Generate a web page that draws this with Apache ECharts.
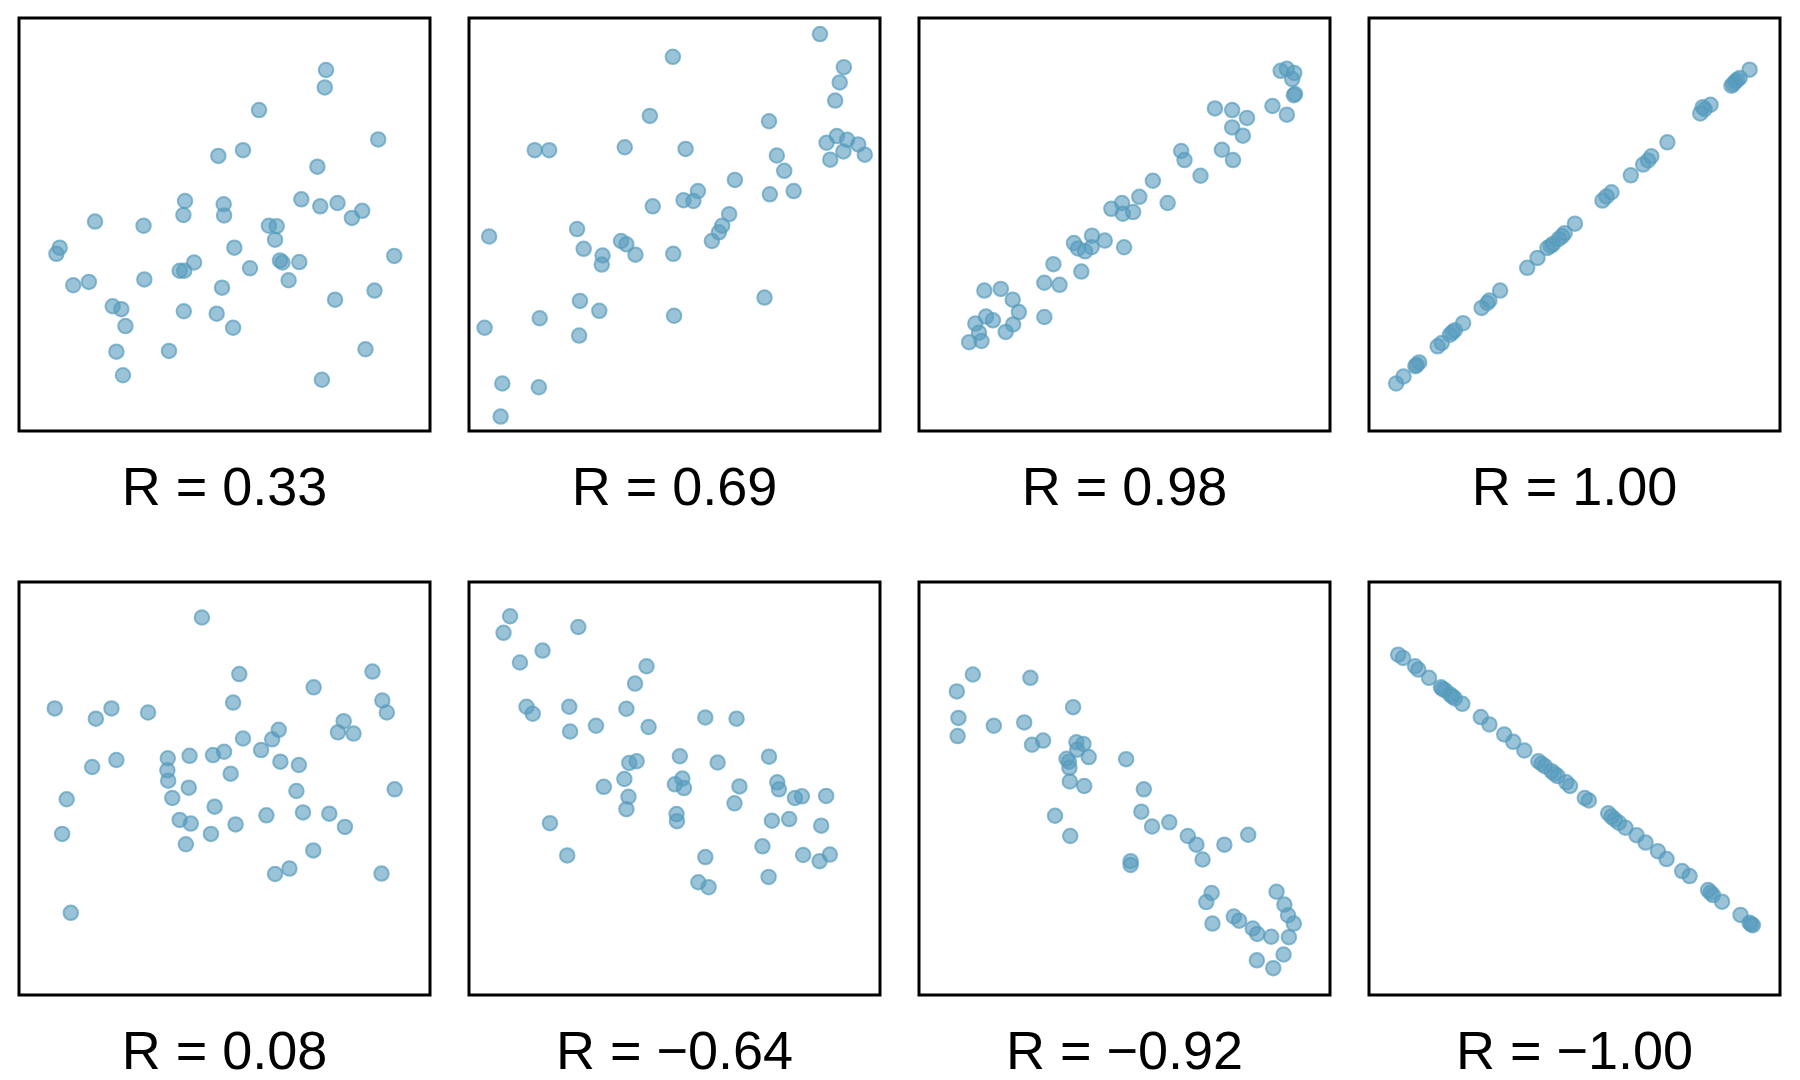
<!DOCTYPE html>
<html>
<head>
<meta charset="utf-8">
<title>Correlation examples</title>
<script src="https://cdn.jsdelivr.net/npm/echarts@6/dist/echarts.min.js"></script>
<style>
  html, body { margin: 0; padding: 0; background: #ffffff; }
  #chart { width: 1800px; height: 1080px; }
</style>
</head>
<body>
<div id="chart"></div>
<script>
// 各面板的标签
const panelLabels = ["R = 0.33", "R = 0.69", "R = 0.98", "R = 1.00", "R = 0.08", "R = \u22120.64", "R = \u22120.92", "R = \u22121.00"];

// 数据：每个面板 [x, y]，坐标范围 0–100
const r033 = [
  [74.7, 87.4], [74.4, 83.2], [58.4, 77.7], [87.4, 70.6], [48.5, 66.6], [54.5, 68.0], [72.6, 64.0], [68.7, 56.1],
  [73.3, 54.4], [77.5, 55.2], [83.5, 53.3], [81.0, 51.6], [40.4, 55.7], [40.0, 52.3], [49.8, 54.9], [49.9, 52.2],
  [18.5, 50.7], [30.3, 49.7], [60.8, 49.7], [62.7, 49.6], [62.3, 46.3], [9.9, 44.4], [9.1, 42.9], [52.4, 44.4],
  [91.3, 42.4], [63.5, 41.3], [64.1, 40.8], [68.2, 40.9], [42.6, 40.8], [39.1, 38.8], [40.2, 38.8], [56.2, 39.4],
  [13.2, 35.3], [17.0, 36.1], [30.5, 36.7], [49.4, 34.7], [65.6, 36.5], [86.5, 34.0], [76.9, 31.8], [22.8, 30.2],
  [24.9, 29.5], [40.1, 29.0], [48.1, 28.4], [25.9, 25.4], [52.1, 25.0], [23.7, 19.2], [36.5, 19.4], [84.3, 19.8],
  [25.3, 13.5], [73.7, 12.4]
];
const r069 = [
  [85.4, 96.1], [49.6, 90.6], [91.2, 88.1], [90.2, 84.4], [89.1, 80.0], [44.0, 76.3], [73.0, 75.0], [16.0, 68.0],
  [19.5, 68.0], [37.9, 68.7], [52.7, 68.3], [87.0, 69.8], [89.5, 71.4], [92.0, 70.5], [94.7, 69.4], [96.3, 66.9],
  [91.1, 67.7], [87.9, 65.7], [74.9, 66.7], [76.7, 63.0], [64.7, 60.8], [55.7, 58.1], [52.2, 55.9], [54.6, 55.7],
  [73.2, 57.3], [79.0, 58.1], [44.7, 54.4], [63.3, 52.5], [61.6, 49.7], [60.8, 48.1], [59.1, 46.0], [4.9, 47.1],
  [26.3, 48.9], [27.9, 44.1], [32.5, 42.5], [32.3, 40.3], [37.0, 46.0], [38.3, 45.2], [40.5, 42.7], [49.7, 42.9],
  [71.9, 32.3], [27.0, 31.5], [31.7, 29.1], [49.9, 27.9], [17.2, 27.3], [3.8, 25.0], [26.8, 23.1], [8.1, 11.5],
  [17.0, 10.6], [7.7, 3.5]
];
const r098 = [
  [88.0, 87.2], [89.5, 87.7], [91.3, 86.7], [90.8, 85.2], [91.5, 81.6], [91.2, 81.3], [72.0, 78.1], [76.2, 77.7],
  [79.8, 75.8], [76.2, 73.5], [78.8, 71.5], [86.0, 78.7], [89.5, 76.6], [73.7, 68.1], [76.4, 65.6], [63.8, 67.8],
  [64.6, 65.6], [68.5, 61.8], [56.9, 60.6], [53.6, 56.7], [60.5, 55.2], [46.8, 53.8], [49.4, 55.2], [49.6, 52.6],
  [52.1, 53.0], [42.1, 47.3], [45.2, 46.1], [49.9, 44.5], [37.7, 45.5], [38.7, 44.2], [40.4, 43.5], [42.0, 44.5],
  [32.7, 40.4], [39.5, 38.6], [30.5, 35.9], [34.2, 35.4], [15.9, 34.0], [19.9, 34.4], [22.8, 31.8], [24.3, 28.8],
  [30.5, 27.6], [16.3, 27.7], [18.0, 26.8], [13.7, 26.0], [22.9, 25.8], [14.6, 23.8], [21.1, 24.0], [15.2, 21.8],
  [12.2, 21.5]
];
const r100 = [
  [6.6, 11.5], [8.4, 13.2], [11.3, 15.7], [11.6, 16.0], [12.2, 16.6], [16.7, 20.5], [17.7, 21.3], [19.7, 23.3],
  [20.3, 23.9], [20.9, 24.4], [22.9, 26.1], [27.4, 29.8], [28.8, 31.0], [29.3, 31.6], [31.9, 34.0], [38.5, 39.5],
  [41.0, 41.9], [43.4, 44.3], [44.2, 44.8], [44.8, 45.3], [46.2, 46.5], [47.0, 47.2], [47.6, 47.9], [50.1, 50.2],
  [56.8, 55.8], [57.8, 56.8], [59.0, 57.8], [63.7, 61.9], [66.7, 64.5], [67.9, 65.5], [68.7, 66.5], [72.6, 69.9],
  [80.6, 76.9], [81.2, 78.4], [81.7, 77.9], [83.1, 79.0], [88.2, 83.6], [88.6, 84.0], [89.1, 84.6], [89.6, 85.0],
  [90.2, 85.5], [92.6, 87.5]
];
const r008 = [
  [44.5, 91.4], [53.6, 77.7], [86.0, 78.3], [71.7, 74.5], [8.7, 69.4], [18.7, 66.9], [22.5, 69.4], [31.4, 68.4],
  [52.1, 70.8], [88.4, 71.3], [89.5, 68.4], [79.0, 66.3], [77.6, 63.6], [81.4, 63.3], [63.2, 64.2], [61.6, 61.9],
  [54.5, 62.1], [58.9, 59.3], [49.9, 58.9], [47.2, 58.1], [41.5, 57.9], [36.2, 57.3], [36.1, 54.4], [36.3, 51.9],
  [63.6, 56.5], [68.1, 55.7], [51.5, 53.6], [17.8, 55.2], [23.7, 56.9], [11.6, 47.4], [41.3, 50.2], [37.3, 47.7],
  [67.5, 49.4], [91.4, 49.8], [47.6, 45.6], [60.2, 43.5], [69.1, 44.2], [75.5, 43.9], [79.3, 40.7], [39.1, 42.4],
  [41.8, 41.5], [52.7, 41.3], [46.7, 39.0], [10.5, 39.0], [40.6, 36.5], [71.6, 35.0], [62.3, 29.3], [65.8, 30.6],
  [88.2, 29.4], [12.6, 19.9]
];
const rNeg064 = [
  [10.0, 91.7], [8.4, 87.7], [26.6, 89.1], [17.9, 83.4], [12.4, 80.5], [43.2, 79.6], [40.4, 75.4], [14.0, 69.8],
  [15.5, 68.1], [24.4, 69.8], [38.3, 69.3], [24.6, 63.8], [30.9, 65.2], [43.7, 64.9], [57.5, 67.2], [65.1, 66.9],
  [39.0, 56.2], [40.8, 56.6], [51.3, 57.8], [60.5, 56.3], [73.0, 57.7], [37.8, 52.3], [32.8, 50.4], [38.8, 48.0],
  [51.9, 52.4], [50.1, 51.0], [52.3, 50.1], [65.8, 50.5], [75.0, 51.5], [75.4, 49.8], [79.3, 47.7], [81.0, 48.1],
  [86.9, 48.2], [64.6, 46.4], [38.3, 45.0], [50.5, 43.8], [50.6, 42.1], [19.7, 41.6], [73.7, 42.2], [77.9, 42.6],
  [85.7, 41.0], [23.9, 33.8], [57.5, 33.4], [71.4, 36.0], [81.3, 33.9], [85.3, 32.4], [87.8, 34.0], [72.9, 28.6],
  [55.8, 27.3], [58.3, 26.1]
];
const rNeg092 = [
  [13.1, 77.6], [27.1, 76.8], [9.2, 73.5], [9.6, 67.1], [9.4, 62.7], [18.2, 65.2], [25.6, 66.0], [37.5, 69.7],
  [27.5, 60.6], [30.2, 61.6], [38.3, 61.2], [40.0, 60.8], [38.5, 59.4], [41.3, 57.6], [35.9, 57.2], [36.5, 56.5],
  [36.6, 55.0], [36.7, 51.7], [40.2, 50.6], [50.4, 57.1], [54.7, 49.8], [54.1, 44.4], [56.7, 40.8], [60.9, 41.8],
  [33.1, 43.4], [36.8, 38.5], [65.4, 38.5], [67.5, 36.4], [69.0, 32.8], [74.3, 36.4], [80.1, 38.8], [51.5, 32.4],
  [51.5, 31.5], [71.2, 24.7], [69.9, 22.5], [71.4, 17.3], [76.6, 19.0], [77.9, 18.0], [81.2, 16.1], [82.3, 14.8],
  [85.7, 14.1], [87.0, 25.0], [88.9, 21.9], [89.8, 19.3], [91.2, 17.3], [90.0, 14.0], [88.7, 9.8], [86.2, 6.5],
  [82.2, 8.4]
];
const rNeg100 = [
  [7.1, 82.4], [8.3, 81.6], [11.2, 79.6], [12.0, 78.8], [14.6, 76.8], [17.5, 74.5], [17.9, 74.1], [18.5, 73.8],
  [19.7, 72.8], [20.3, 72.3], [20.9, 71.8], [22.7, 70.5], [27.2, 67.3], [29.3, 65.5], [32.9, 63.1], [35.1, 61.3],
  [37.8, 59.2], [41.2, 56.6], [42.0, 56.0], [42.8, 55.4], [44.4, 54.2], [45.1, 53.6], [45.9, 53.0], [48.0, 51.5],
  [48.9, 50.6], [52.5, 47.7], [53.5, 47.1], [58.2, 44.0], [59.0, 43.2], [59.8, 42.5], [60.8, 41.7], [62.4, 40.5],
  [65.1, 38.7], [67.3, 36.9], [70.3, 34.8], [72.4, 32.9], [76.2, 30.0], [78.0, 28.8], [82.5, 25.4], [83.1, 24.8],
  [83.7, 24.2], [85.9, 22.6], [90.4, 19.4], [92.6, 17.5], [93.0, 17.1], [93.4, 16.9]
];

const panelData = [r033, r069, r098, r100, r008, rNeg064, rNeg092, rNeg100];

const PANEL_LEFTS = [19, 469, 919, 1369];
const PANEL_TOPS = [18, 582];
const PANEL_W = 411;
const PANEL_H = 413;
const POINT_COLOR = "rgba(86, 155, 189, 0.75)";
const POINT_BORDER = "rgba(86, 155, 189, 0.85)";

const chart = echarts.init(document.getElementById("chart"), null, { renderer: "canvas" });

const grids = [];
const xAxes = [];
const yAxes = [];
const series = [];
const titles = [];

panelData.forEach((data, i) => {
  const col = i % 4;
  const row = Math.floor(i / 4);
  const left = PANEL_LEFTS[col];
  const top = PANEL_TOPS[row];

  grids.push({
    left: left,
    top: top,
    width: PANEL_W,
    height: PANEL_H,
    show: true,
    borderColor: "#000000",
    borderWidth: 3,
    backgroundColor: "transparent",
  });

  const hiddenAxis = {
    gridIndex: i,
    type: "value",
    min: 0,
    max: 100,
    axisLine: { show: false },
    axisTick: { show: false },
    axisLabel: { show: false },
    splitLine: { show: false },
  };
  xAxes.push(Object.assign({}, hiddenAxis));
  yAxes.push(Object.assign({}, hiddenAxis));

  series.push({
    type: "scatter",
    xAxisIndex: i,
    yAxisIndex: i,
    symbol: "circle",
    symbolSize: 14.5,
    itemStyle: {
      color: POINT_COLOR,
      borderColor: POINT_BORDER,
      borderWidth: 2,
    },
    emphasis: { disabled: true },
    data: data,
  });

  titles.push({
    text: panelLabels[i],
    left: left + PANEL_W / 2,
    top: top + 445,
    textAlign: "center",
    padding: 0,
    textStyle: {
      fontFamily: "Liberation Sans",
      fontSize: 54,
      fontWeight: "normal",
      color: "#000000",
    },
  });
});

chart.setOption({
  backgroundColor: "#ffffff",
  animation: false,
  title: titles,
  grid: grids,
  xAxis: xAxes,
  yAxis: yAxes,
  series: series,
});
</script>
</body>
</html>
